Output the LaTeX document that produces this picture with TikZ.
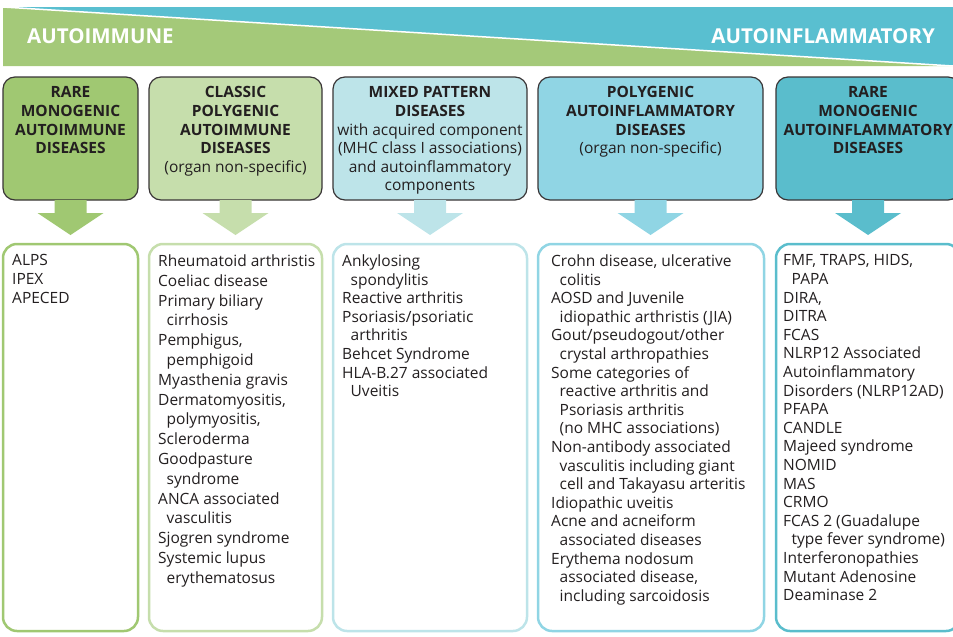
\documentclass[tikz,border=0pt]{standalone}
\usepackage{fontspec}
\setmainfont{Open Sans}
\usetikzlibrary{calc}
\definecolor{bgreen}{HTML}{A4C979}
\definecolor{bblue}{HTML}{59BFD0}
\definecolor{cA}{HTML}{A0C872}
\definecolor{cB}{HTML}{C6DEAC}
\definecolor{cC}{HTML}{BDE4E9}
\definecolor{cD}{HTML}{90D5E4}
\definecolor{cE}{HTML}{5ABDCC}
\definecolor{ink}{HTML}{231F20}
\newcommand\ci{\hspace*{8.5pt}}
\newcommand\blockarrow[2]{%
  \fill[#2] ($(#1.south)+(-16,0)$) -- ($(#1.south)+(-16,13)$) -- ($(#1.south)+(-33,13)$)
    -- ($(#1.south)+(0,35)$) -- ($(#1.south)+(33,13)$) -- ($(#1.south)+(16,13)$)
    -- ($(#1.south)+(16,0)$) -- cycle;}
\begin{document}
\begin{tikzpicture}[x=1pt,y=-1pt,
  hdrbox/.style={draw=ink!90, line width=1.2pt, rounded corners=12pt, minimum height=123pt, outer sep=0pt, inner sep=0pt},
  lstbox/.style={line width=2.5pt, rounded corners=14pt, minimum height=387pt, outer sep=0pt, inner sep=0pt, fill=white},
  htext/.style={align=center, inner sep=0pt, text=ink, font=\fontsize{15.5}{18.6}\selectfont\bfseries},
  ltext/.style={align=left, inner sep=0pt, text=ink, anchor=north west, font=\fontsize{15.5}{18.6}\selectfont},
  bantext/.style={inner sep=0pt, text=white, font=\fontsize{20.5}{24}\selectfont\bfseries}]
\useasboundingbox (0,0) rectangle (953,637);
\clip (0,0) rectangle (953,637);
% banner
\fill[bblue] (3,7) rectangle (960,66);
\fill[bgreen] (3,7) -- (953,66) -- (3,66) -- cycle;
\draw[white, line width=1.5pt] (3,7) -- (953,66);
\node[bantext, anchor=west] (ban1) at (27,36) {AUTOIMMUNE};
\node[bantext, anchor=east] (ban2) at (935,36) {AUTOINFLAMMATORY};
% header boxes
\node[hdrbox, fill=cA, minimum width=135pt] (h1) at (70.5,138.5) {};
\node[hdrbox, fill=cB, minimum width=173pt] (h2) at (235.5,138.5) {};
\node[hdrbox, fill=cC, minimum width=194pt] (h3) at (430,138.5) {};
\node[hdrbox, fill=cD, minimum width=225pt] (h4) at (650.5,138.5) {};
\node[hdrbox, fill=cE, minimum width=184pt] (h5) at (868,138.5) {};
\node[htext, anchor=north] (ht1) at ($(h1.north)+(0,9.5)$) {RARE\\MONOGENIC\\AUTOIMMUNE\\DISEASES};
\node[htext, anchor=north] (ht2) at ($(h2.north)+(0,9.5)$) {CLASSIC\\POLYGENIC\\AUTOIMMUNE\\DISEASES\\{\mdseries (organ non-specific)}};
\node[htext, anchor=north] (ht3) at ($(h3.north)+(0,9.5)$) {MIXED PATTERN\\DISEASES\\{\mdseries with acquired component}\\{\mdseries (MHC class I associations)}\\{\mdseries and autoinflammatory}\\{\mdseries components}};
\node[htext, anchor=north] (ht4) at ($(h4.north)+(0,9.5)$) {POLYGENIC\\AUTOINFLAMMATORY\\DISEASES\\{\mdseries (organ non-specific)}};
\node[htext, anchor=north] (ht5) at ($(h5.north)+(0,9.5)$) {RARE\\MONOGENIC\\AUTOINFLAMMATORY\\DISEASES};
% list boxes
\node[lstbox, draw=cA, minimum width=135pt] (l1) at (70.5,437.5) {};
\node[lstbox, draw=cB, minimum width=173pt] (l2) at (235.5,437.5) {};
\node[lstbox, draw=cC, minimum width=194pt] (l3) at (430,437.5) {};
\node[lstbox, draw=cD, minimum width=226pt] (l4) at (651,437.5) {};
\node[lstbox, draw=cE, minimum width=184pt] (l5) at (868,437.5) {};
% arrows
\blockarrow{h1}{cA}
\blockarrow{h2}{cB}
\blockarrow{h3}{cC}
\blockarrow{h4}{cD}
\blockarrow{h5}{cE}
% list texts
\node[ltext] (lt1) at ($(l1.north west)+(9,10.5)$) {ALPS\\IPEX\\APECED};
\node[ltext, font=\fontsize{15.5}{19.8}\selectfont] (lt2) at ($(l2.north west)+(9,10.5)$) {Rheumatoid arthristis\\Coeliac disease\\Primary biliary\\\ci cirrhosis\\Pemphigus,\\\ci pemphigoid\\Myasthenia gravis\\Dermatomyositis,\\\ci polymyositis,\\Scleroderma\\Goodpasture\\\ci syndrome\\ANCA associated\\\ci vasculitis\\Sjogren syndrome\\Systemic lupus\\\ci erythematosus};
\node[ltext] (lt3) at ($(l3.north west)+(9,10.5)$) {Ankylosing\\\ci spondylitis\\Reactive arthritis\\Psoriasis/psoriatic\\\ci arthritis\\Behcet Syndrome\\HLA-B.27 associated\\\ci Uveitis};
\node[ltext] (lt4) at ($(l4.north west)+(13,10.5)$) {Crohn disease, ulcerative\\\ci colitis\\AOSD and Juvenile\\\ci idiopathic arthristis (JIA)\\Gout/pseudogout/other\\\ci crystal arthropathies\\Some categories of\\\ci reactive arthritis and\\\ci Psoriasis arthritis\\\ci (no MHC associations)\\Non-antibody associated\\\ci vasculitis including giant\\\ci cell and Takayasu arteritis\\Idiopathic uveitis\\Acne and acneiform\\\ci associated diseases\\Erythema nodosum\\\ci associated disease,\\\ci including sarcoidosis};
\node[ltext] (lt5) at ($(l5.north west)+(7,10.5)$) {FMF, TRAPS, HIDS,\\\ci PAPA\\DIRA,\\DITRA\\FCAS\\NLRP12 Associated\\Autoinflammatory\\Disorders (NLRP12AD)\\PFAPA\\CANDLE\\Majeed syndrome\\NOMID\\MAS\\CRMO\\FCAS 2 (Guadalupe\\\ci type fever syndrome)\\Interferonopathies\\Mutant Adenosine\\Deaminase 2};
\end{tikzpicture}
\end{document}
